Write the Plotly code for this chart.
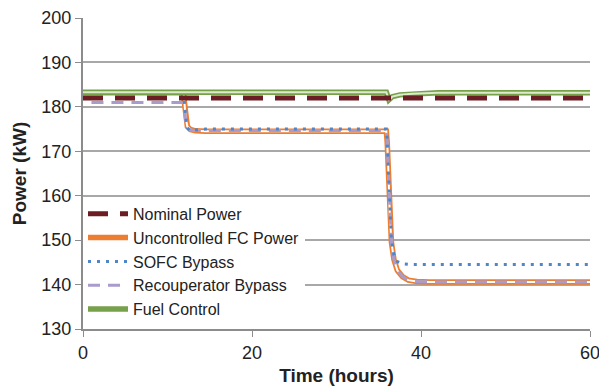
import plotly.graph_objects as go

# Nominal power
nom_t = [0, 60]
nom_p = [182.0, 182.0]

# Uncontrolled FC power
unc_t = [0, 11.9, 12.0, 12.15, 12.35, 12.7, 13.3, 14.5, 35.9, 36.0, 36.15, 36.3, 36.5, 36.8, 37.2, 37.8, 38.5, 39.5, 41, 60]
unc_p = [183.2, 183.2, 181.0, 177.5, 175.6, 174.9, 174.6, 174.5, 174.5, 172.0, 165.0, 156.0, 149.5, 145.6, 143.2, 141.8, 141.0, 140.7, 140.6, 140.6]

# SOFC bypass
sofc_t = [0, 11.9, 12.0, 12.15, 12.35, 12.7, 13.3, 14.5, 35.9, 36.0, 36.15, 36.3, 36.5, 36.8, 37.2, 37.8, 39, 60]
sofc_p = [183.0, 183.0, 181.0, 177.5, 175.3, 174.6, 174.8, 175.0, 175.0, 172.5, 165.0, 156.5, 150.0, 146.6, 145.2, 144.7, 144.5, 144.5]

# Recouperator bypass
rec_t = [1, 11.9, 12.0, 12.15, 12.35, 12.7, 13.3, 14.5, 35.9, 36.0, 36.15, 36.3, 36.5, 36.8, 37.2, 37.8, 38.5, 39.5, 41, 60]
rec_p = [181.0, 181.0, 179.5, 176.8, 175.3, 174.8, 174.7, 174.7, 174.7, 172.0, 165.0, 156.0, 149.5, 145.6, 143.2, 141.8, 141.0, 140.7, 140.6, 140.6]

# Fuel control
fuel_t = [0, 35.9, 36.2, 36.6, 37.5, 39, 42, 60]
fuel_p = [183.3, 183.3, 181.6, 182.3, 182.7, 182.95, 183.15, 183.2]

x_ticks = [0, 20, 40, 60]
y_ticks = [130, 140, 150, 160, 170, 180, 190, 200]

ORANGE = "#ED7D31"
BLUE = "#4F86C8"
LAV = "#A99BCB"
GREEN = "#77A04B"
GREEN_IN = "#DDEBCD"
MAROON = "#6B1D23"

fig = go.Figure()

# Uncontrolled (double line: orange outer + white inner)
fig.add_trace(go.Scatter(x=unc_t, y=unc_p, mode="lines", name="Uncontrolled FC Power",
                         line=dict(color=ORANGE, width=5.5), legendrank=2, legendgroup="unc"))
fig.add_trace(go.Scatter(x=unc_t, y=unc_p, mode="lines", showlegend=False, hoverinfo="skip",
                         line=dict(color="white", width=2), legendgroup="unc"))
# Recouperator bypass
fig.add_trace(go.Scatter(x=rec_t, y=rec_p, mode="lines", name="Recouperator Bypass",
                         line=dict(color=LAV, width=3, dash="12px,8px"), legendrank=4))
# SOFC bypass
fig.add_trace(go.Scatter(x=sofc_t, y=sofc_p, mode="lines", name="SOFC Bypass",
                         line=dict(color=BLUE, width=3, dash="3px,6px"), legendrank=3))
# Fuel control (double line)
fig.add_trace(go.Scatter(x=fuel_t, y=fuel_p, mode="lines", name="Fuel Control",
                         line=dict(color=GREEN, width=5.5), legendrank=5, legendgroup="fuel"))
fig.add_trace(go.Scatter(x=fuel_t, y=fuel_p, mode="lines", showlegend=False, hoverinfo="skip",
                         line=dict(color=GREEN_IN, width=2), legendgroup="fuel"))
# Nominal
fig.add_trace(go.Scatter(x=nom_t, y=nom_p, mode="lines", name="Nominal Power",
                         line=dict(color=MAROON, width=5, dash="20px,12px"), legendrank=1))

font_family = "Liberation Sans, Arial, sans-serif"

fig.update_layout(
    width=599, height=386,
    margin=dict(l=83, r=9, t=18, b=57),
    paper_bgcolor="white", plot_bgcolor="white",
    font=dict(family=font_family, color="#222222", size=16),
    showlegend=True,
    legend=dict(x=0.0, y=0.01, xanchor="left", yanchor="bottom",
                bgcolor="white", font=dict(size=16, color="#222222"),
                tracegroupgap=0, itemwidth=40),
    xaxis=dict(range=[0, 60], tickvals=x_ticks, showgrid=False, zeroline=False,
               showline=True, linecolor="#8C8C8C", linewidth=2,
               ticks="outside", ticklen=6, tickcolor="#8C8C8C", tickwidth=1,
               tickfont=dict(size=18, color="#222222"), automargin=False,
               ticklabeloverflow="allow",
               title=dict(text="<b>Time (hours)</b>", font=dict(size=19), standoff=17)),
    yaxis=dict(range=[130, 200], tickvals=y_ticks, showgrid=True, gridcolor="#A8A8A8", gridwidth=1.5,
               zeroline=False, showline=True, linecolor="#8C8C8C", linewidth=2,
               ticks="outside", ticklen=6, tickcolor="#8C8C8C", tickwidth=1,
               tickfont=dict(size=18, color="#222222"), automargin=False,
               title=dict(text="<b>Power (kW)</b>", font=dict(size=19), standoff=10)),
)

# Remove the default 8px page margin so the figure sits at the window's top-left corner.
fig.write_html("out.html",
               config={"displayModeBar": False},
               post_script="document.body.style.margin='0px';document.body.style.overflow='hidden';")
